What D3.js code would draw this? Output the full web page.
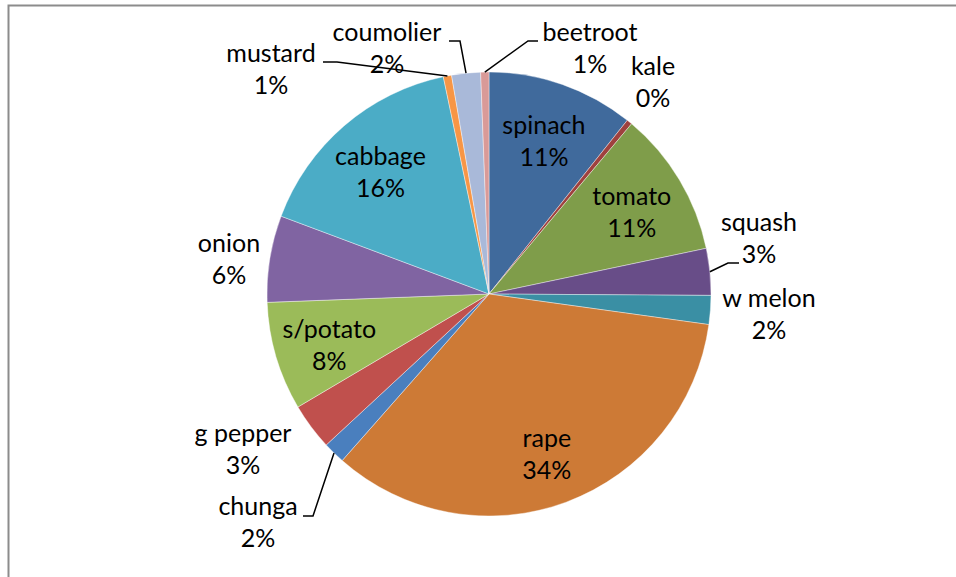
<!DOCTYPE html>
<html lang="en">
<head>
<meta charset="UTF-8">
<title>Vegetable pie</title>
<style>
    body { margin: 0; background: #fff; }
    text { font-family: Lato, "Open Sans", sans-serif; font-size: 25px; fill: #000; }
</style>
</head>
<body>
<div id="content"></div>
<script src="https://d3js.org/d3.v7.min.js"></script>
<script>
    // crops and their share of the total
    var crops = ["spinach", "kale", "tomato", "squash", "w melon", "rape", "chunga",
        "g pepper", "s/potato", "onion", "cabbage", "mustard", "coumolier", "beetroot"];
    var shares = [10.7, 0.4, 10.6, 3.4, 2.1, 34.3, 1.6, 3.4, 7.9, 6.3, 16.0, 0.6, 2.1, 0.6];
    var colours = ["#406A9C", "#9F413E", "#7F9D4A", "#684D88", "#3A8FA4", "#CD7A36", "#4A7FBE",
        "#C0504D", "#9BBB59", "#8064A2", "#4BACC6", "#F79646", "#A9B9D9", "#D99A98"];

    // labels that sit outside the pie: text anchor, and optional leader elbow
    var outside = {
        "beetroot": { x: 590, y: 41, elbow: [[538, 41], [528, 41]] },
        "kale": { x: 653, y: 75 },
        "squash": { x: 759, y: 231, elbow: [[739, 263], [728, 263]] },
        "w melon": { x: 769, y: 307 },
        "chunga": { x: 258, y: 515, elbow: [[303, 516], [313, 516]] },
        "g pepper": { x: 243, y: 442 },
        "onion": { x: 229, y: 252 },
        "mustard": { x: 271, y: 62, elbow: [[323, 62], [337, 62]] },
        "coumolier": { x: 387, y: 41, elbow: [[449, 41], [460, 41]] }
    };

    var width = 956, height = 577;
    var cx = 489, cy = 294, radius = 222;

    var svg = d3.select("#content")
        .append("svg")
        .attr("width", width)
        .attr("height", height);

    // chart frame
    svg.append("path")
        .attr("d", "M8.5,600 L8.5,5.5 L960,5.5")
        .attr("fill", "none")
        .attr("stroke", "#8c8c8c")
        .attr("stroke-width", 2);

    var data = crops.map(function (c, i) {
        return { name: c, value: shares[i], color: colours[i] };
    });
    var total = d3.sum(shares);

    var pie = d3.pie().sort(null).value(function (d) { return d.value; });
    var arcs = pie(data);

    var arc = d3.arc().innerRadius(0).outerRadius(radius);
    var labelArc = d3.arc().innerRadius(radius * 0.75).outerRadius(radius * 0.75);
    var edgeArc = d3.arc().innerRadius(radius).outerRadius(radius);

    var g = svg.append("g").attr("transform", "translate(" + cx + "," + cy + ")");

    g.selectAll("path.slice")
        .data(arcs)
        .enter()
        .append("path")
        .attr("class", "slice")
        .attr("d", arc)
        .attr("fill", function (d) { return d.data.color; })
        .attr("stroke", "#fff")
        .attr("stroke-width", 0.4);

    function pct(d) {
        return Math.round(d.data.value / total * 100) + "%";
    }

    // leader lines
    arcs.forEach(function (d) {
        var o = outside[d.data.name];
        if (!o || !o.elbow) return;
        var e = edgeArc.centroid(d);
        var pts = o.elbow.concat([[e[0] + cx, e[1] + cy]]);
        svg.append("path")
            .attr("d", d3.line()(pts))
            .attr("fill", "none")
            .attr("stroke", "#000")
            .attr("stroke-width", 1.5);
    });

    // labels
    arcs.forEach(function (d) {
        var o = outside[d.data.name];
        var x, y;
        if (o) {
            x = o.x; y = o.y;
        } else {
            var c = labelArc.centroid(d);
            x = c[0] + cx; y = c[1] + cy - 3;
        }
        var t = svg.append("text")
            .attr("text-anchor", "middle")
            .attr("x", x)
            .attr("y", y);
        t.append("tspan").attr("x", x).text(d.data.name);
        t.append("tspan").attr("x", x).attr("dy", 32).text(pct(d));
    });
</script>
</body>
</html>
